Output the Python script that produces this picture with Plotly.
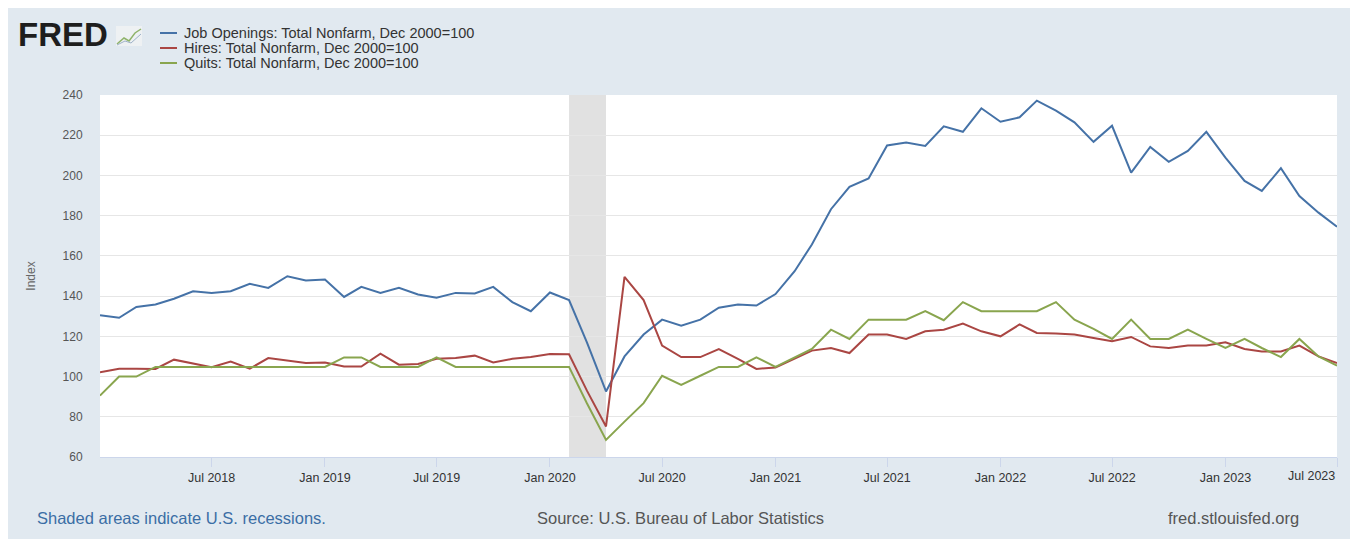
import pandas as pd
import plotly.graph_objects as go

start_month = "2018-01-01"
n_months = 67

openings = [130.5, 129.2, 134.6, 135.8, 138.7, 142.4, 141.6, 142.4, 146.1, 144.1, 149.9, 147.8,
            148.3, 139.6, 144.6, 141.6, 144.1, 140.8, 139.2, 141.6, 141.3, 144.6, 137.0, 132.5,
            141.8, 138.0, 117.0, 92.6, 110.0, 120.9, 128.3, 125.3, 128.3, 134.2, 135.8, 135.3,
            141.0, 152.4, 165.7, 183.2, 194.3, 198.5, 214.9, 216.4, 214.7, 224.4, 221.7, 233.4,
            226.7, 228.9, 237.2, 232.2, 226.4, 216.7, 224.7, 201.4, 214.2, 206.8, 212.2, 221.7,
            208.9, 197.3, 192.3, 203.6, 189.8, 181.5, 174.5]

hires = [102.1, 103.9, 103.9, 103.8, 108.4, 106.4, 104.6, 107.5, 103.9, 109.2, 108.0, 106.7,
         107.0, 105.0, 105.0, 111.4, 105.9, 106.3, 108.8, 109.2, 110.4, 107.0, 108.8, 109.7,
         111.2, 111.1, 93.0, 75.2, 149.6, 138.0, 115.4, 109.7, 109.7, 113.7, 108.8, 103.8,
         104.5, 108.8, 112.9, 114.2, 111.7, 120.9, 120.9, 118.7, 122.5, 123.3, 126.3, 122.5,
         120.0, 125.9, 121.7, 121.4, 120.9, 119.2, 117.6, 119.7, 115.0, 114.2, 115.4, 115.4,
         117.0, 113.7, 112.5, 112.5, 115.4, 110.0, 106.7]

quits = [90.5, 100.0, 100.0, 104.8, 104.8, 104.8, 104.8, 104.8, 104.8, 104.8, 104.8, 104.8,
         104.8, 109.5, 109.5, 104.8, 104.8, 104.8, 109.5, 104.8, 104.8, 104.8, 104.8, 104.8,
         104.8, 104.8, 86.7, 68.5, 77.6, 86.8, 100.4, 95.9, 100.4, 104.8, 104.8, 109.5,
         104.8, 109.5, 113.7, 123.3, 118.7, 128.3, 128.3, 128.3, 132.5, 128.0, 137.0, 132.5,
         132.5, 132.5, 132.5, 137.0, 128.3, 123.7, 118.7, 128.3, 118.7, 118.7, 123.3, 118.7,
         114.2, 118.7, 114.2, 109.7, 118.7, 110.0, 105.4]

series_names = ["Job Openings: Total Nonfarm, Dec 2000=100",
                "Hires: Total Nonfarm, Dec 2000=100",
                "Quits: Total Nonfarm, Dec 2000=100"]
series_colors = ["#4572a7", "#aa4643", "#89a54e"]

tick_dates = ["2018-07-01", "2019-01-01", "2019-07-01", "2020-01-01", "2020-07-01", "2021-01-01",
              "2021-07-01", "2022-01-01", "2022-07-01", "2023-01-01", "2023-07-01"]
tick_labels = ["Jul 2018", "Jan 2019", "Jul 2019", "Jan 2020", "Jul 2020", "Jan 2021",
               "Jul 2021", "Jan 2022", "Jul 2022", "Jan 2023", ""]
last_tick_label = "Jul 2023"

recession_start = "2020-02-01"
recession_end = "2020-04-01"

dates = pd.date_range(start_month, periods=n_months, freq="MS")

# The page body has an 8px margin, so the figure starts at (8, 8) on the screen.
OFF = 8
W, H = 1350 - OFF, 539 - OFF
L, R, T, B = 100 - OFF, 13, 95 - OFF, 82
PW, PH = W - L - R, H - T - B
PAPER = "#e1e9f0"


def px(x):
    """screen x pixel -> paper x"""
    return (x - OFF - L) / PW


def py(y):
    """screen y pixel -> paper y"""
    return (H - B - (y - OFF)) / PH


FONT = "Arial, Liberation Sans, sans-serif"

fig = go.Figure()
for name, vals, col in zip(series_names, [openings, hires, quits], series_colors):
    fig.add_trace(go.Scatter(x=dates, y=vals, mode="lines", name=name,
                             line=dict(color=col, width=2), showlegend=False))

fig.add_vrect(x0=recession_start, x1=recession_end, fillcolor="#e1e1e1",
              line_width=0, layer="below", opacity=1)

fig.update_layout(
    width=W, height=H,
    margin=dict(l=L, r=R, t=T, b=B, autoexpand=False),
    paper_bgcolor=PAPER,
    plot_bgcolor="#ffffff",
    font=dict(family=FONT, color="#333333"),
    showlegend=False,
    xaxis=dict(
        range=[dates[0], dates[-1]],
        tickvals=tick_dates, ticktext=tick_labels,
        ticks="outside", ticklen=9, tickcolor="#ccd6eb", tickwidth=1,
        showline=True, linecolor="#ccd6eb", linewidth=1,
        showgrid=False, zeroline=False,
        tickfont=dict(size=12.5, color="#333333"),
    ),
    yaxis=dict(
        range=[60, 240], dtick=20,
        showgrid=True, gridcolor="#e6e6e6", gridwidth=1,
        zeroline=False,
        ticks="outside", ticklen=14, tickcolor="rgba(0,0,0,0)",
        tickfont=dict(size=12, color="#555555"),
        title=dict(text="Index", font=dict(size=12, color="#666666"), standoff=24),
    ),
)

annotations = [
    dict(text="<b>FRED</b>", x=px(16), y=py(35), xanchor="left", yanchor="middle",
         font=dict(size=33, color="#1e1e1e", family=FONT)),
    dict(text=last_tick_label, x=1.0, y=py(476), xanchor="right", yanchor="middle",
         xshift=0, font=dict(size=12.5, color="#333333")),
    dict(text="Shaded areas indicate U.S. recessions.", x=px(35), y=py(518),
         xanchor="left", yanchor="middle", font=dict(size=16.5, color="#3b6ea5")),
    dict(text="Source: U.S. Bureau of Labor Statistics", x=px(535), y=py(518),
         xanchor="left", yanchor="middle", font=dict(size=16.5, color="#555555")),
    dict(text="fred.stlouisfed.org", x=px(1301), y=py(518),
         xanchor="right", yanchor="middle", font=dict(size=16.5, color="#555555")),
]
# legend entries (text)
legend_rows = [33, 48, 63]
for name, ry in zip(series_names, legend_rows):
    annotations.append(dict(text=name, x=px(182), y=py(ry), xanchor="left", yanchor="middle",
                            font=dict(size=14.5, color="#333333")))
for a in annotations:
    a.update(xref="paper", yref="paper", showarrow=False)
fig.update_layout(annotations=annotations)

shapes = []
# legend swatches
for col, ry in zip(series_colors, legend_rows):
    shapes.append(dict(type="line", x0=px(160), x1=px(177), y0=py(ry), y1=py(ry),
                       line=dict(color=col, width=2)))
# small FRED logo graph icon (decorative)
shapes += [
    dict(type="rect", x0=px(116), x1=px(142), y0=py(46), y1=py(26),
         fillcolor="#eef1f3", line=dict(width=0)),
    dict(type="path",
         path=f"M {px(117)} {py(44)} L {px(124)} {py(38)} L {px(129)} {py(41)} L {px(135)} {py(33)} L {px(141)} {py(29)}",
         line=dict(color="#8fb36a", width=1.5)),
    dict(type="path",
         path=f"M {px(117)} {py(45)} L {px(125)} {py(41)} L {px(131)} {py(43)} L {px(141)} {py(34)}",
         line=dict(color="#9fb3c8", width=1)),
]
for s in shapes:
    s.update(xref="paper", yref="paper", layer="above")
fig.update_layout(shapes=list(fig.layout.shapes) + shapes)

# the chart background in the reference runs to the right edge of the window
page_script = (
    "document.documentElement.style.background='#ffffff';"
    "document.documentElement.style.overflow='hidden';"
    "document.body.style.marginRight='0px';"
    "document.body.style.background='" + PAPER + "';"
)
fig.write_html("out.html", post_script=page_script)
